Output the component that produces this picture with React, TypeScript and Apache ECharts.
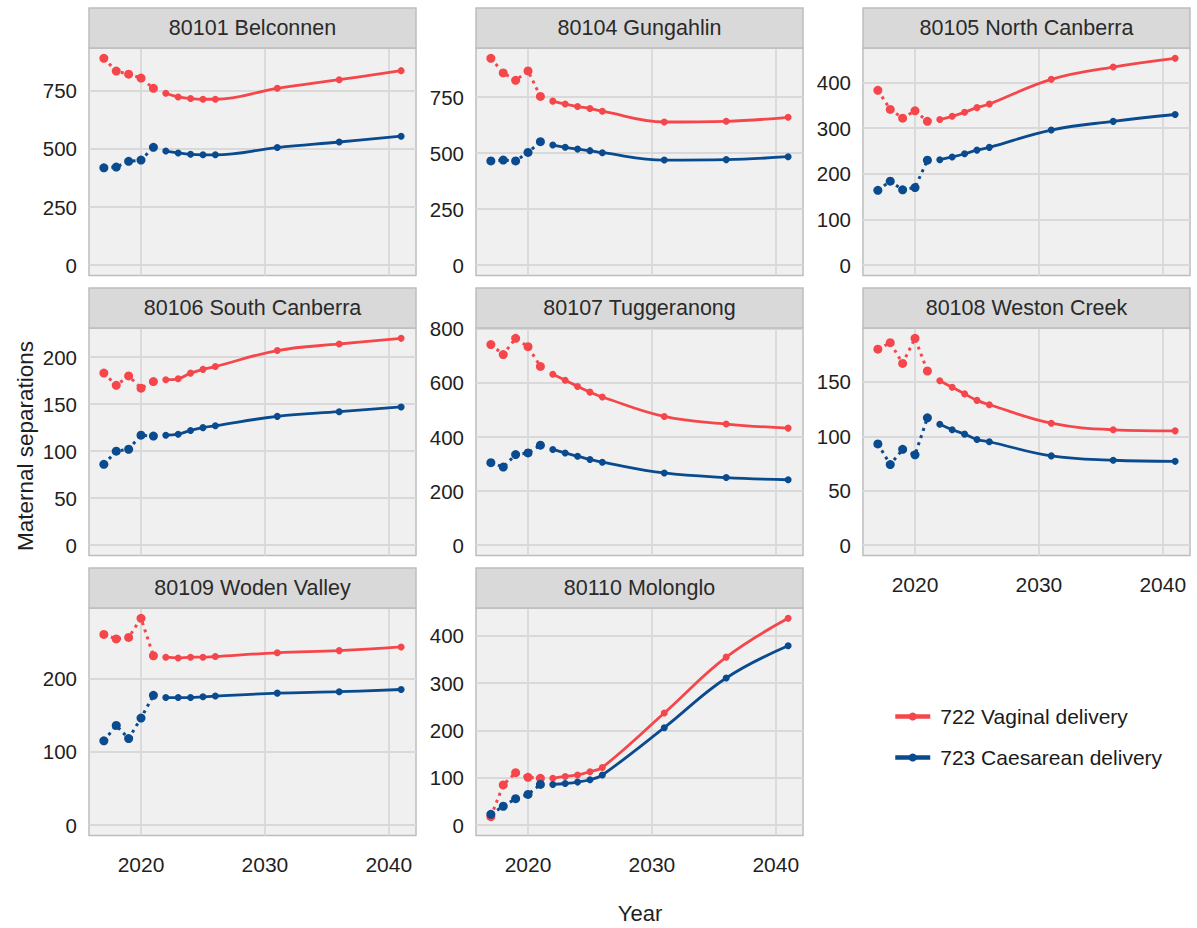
import React, { useEffect, useRef } from "react";
import * as echarts from "echarts";

// ---------- DATA ----------
const obsYears = [2017, 2018, 2019, 2020, 2021];
const projYears = [2022, 2023, 2024, 2025, 2026, 2031, 2036, 2041];
const xTicks = [2020, 2030, 2040];

const vagName = "722 Vaginal delivery";
const caesName = "723 Caesarean delivery";

const districts = [
  "80101 Belconnen",
  "80104 Gungahlin",
  "80105 North Canberra",
  "80106 South Canberra",
  "80107 Tuggeranong",
  "80108 Weston Creek",
  "80109 Woden Valley",
  "80110 Molonglo",
];

// values: 2017-2021 observed, then 2022-2026, 2031, 2036, 2041 projected
const belconnenVag = [890, 835, 822, 805, 761, 740, 724, 717, 714, 714, 761, 798, 837];
const belconnenCaes = [419, 422, 447, 452, 507, 491, 483, 477, 475, 475, 506, 530, 555];
const gungahlinVag = [923, 858, 825, 867, 753, 732, 719, 708, 699, 687, 639, 642, 660];
const gungahlinCaes = [465, 469, 465, 503, 551, 536, 526, 518, 511, 502, 469, 471, 484];
const northCanberraVag = [383, 341, 322, 338, 315, 319, 326, 335, 345, 353, 407, 434, 453];
const northCanberraCaes = [164, 184, 165, 170, 230, 231, 237, 244, 252, 258, 296, 315, 330];
const southCanberraVag = [183, 170, 180, 167, 174, 176, 177, 183, 187, 190, 207, 214, 220];
const southCanberraCaes = [86, 100, 102, 117, 116, 117, 118, 122, 125, 127, 137, 142, 147];
const tuggeranongVag = [742, 705, 765, 734, 661, 632, 610, 587, 566, 548, 476, 448, 433];
const tuggeranongCaes = [305, 289, 335, 341, 370, 354, 341, 329, 317, 307, 267, 250, 242];
const westonCreekVag = [180, 186, 167, 190, 160, 151, 145, 139, 133, 129, 112, 106, 105];
const westonCreekCaes = [93, 74, 88, 83, 117, 111, 106, 102, 97, 95, 82, 78, 77];
const wodenValleyVag = [260, 254, 256, 282, 231, 229, 228, 229, 229, 230, 235, 238, 243];
const wodenValleyCaes = [115, 136, 118, 146, 177, 174, 174, 174, 175, 176, 180, 182, 185];
const molongloVag = [18, 85, 111, 101, 99, 99, 103, 106, 113, 122, 237, 355, 437];
const molongloCaes = [23, 40, 56, 65, 86, 86, 88, 91, 96, 106, 206, 311, 379];

const vagValues = [belconnenVag, gungahlinVag, northCanberraVag, southCanberraVag, tuggeranongVag, westonCreekVag, wodenValleyVag, molongloVag];
const caesValues = [belconnenCaes, gungahlinCaes, northCanberraCaes, southCanberraCaes, tuggeranongCaes, westonCreekCaes, wodenValleyCaes, molongloCaes];

const yTicks = [
  [0, 250, 500, 750],
  [0, 250, 500, 750],
  [0, 100, 200, 300, 400],
  [0, 50, 100, 150, 200],
  [0, 200, 400, 600, 800],
  [0, 50, 100, 150],
  [0, 100, 200],
  [0, 100, 200, 300, 400],
];

// ---------- STYLE / LAYOUT ----------
const RED = "#F5474B";
const BLUE = "#0A4A8E";
const FONT = "'Liberation Sans', Arial, Helvetica, sans-serif";
const colLeft = [89, 476, 863];
const rowTop = [48, 328, 608];
const PW = 327;
const PH = 227.5;
const STRIP = 40;
const showXLabels = [5, 6, 7];

export default function App() {
  const ref = useRef<HTMLDivElement>(null);

  useEffect(() => {
    if (!ref.current) return;
    const chart = echarts.init(ref.current, undefined, { renderer: "svg" });

    const grids: any[] = [];
    const xAxes: any[] = [];
    const yAxes: any[] = [];
    const series: any[] = [];
    const graphics: any[] = [];

    districts.forEach((name, p) => {
      const col = p % 3;
      const row = Math.floor(p / 3);
      const left = colLeft[col];
      const top = rowTop[row];
      grids.push({
        left, top, width: PW, height: PH,
        show: true,
        backgroundColor: "#F0F0F0",
        borderColor: "#BDBDBD",
        borderWidth: 1.5,
        containLabel: false,
      });
      const all = [...vagValues[p], ...caesValues[p]];
      const hi = Math.max(...all);
      const lo = Math.min(0, ...all);
      const span = hi - lo;
      xAxes.push({
        type: "value",
        gridIndex: p,
        min: 2015.8,
        max: 2042.2,
        axisLine: { show: false },
        axisTick: { show: false, customValues: xTicks },
        axisLabel: {
          show: showXLabels.includes(p),
          customValues: xTicks,
          formatter: (v: number) => String(v),
          fontSize: 21,
          color: "#1f1f1f",
          fontFamily: FONT,
          margin: 18,
        },
        splitLine: { show: true, lineStyle: { color: "#D9D9D9", width: 1.8 } },
      });
      yAxes.push({
        type: "value",
        gridIndex: p,
        min: lo - 0.05 * span,
        max: hi + 0.05 * span,
        axisLine: { show: false },
        axisTick: { show: false, customValues: yTicks[p] },
        axisLabel: {
          customValues: yTicks[p],
          formatter: (v: number) => String(v),
          fontSize: 20.5,
          color: "#1f1f1f",
          fontFamily: FONT,
          margin: 12,
        },
        splitLine: { show: true, lineStyle: { color: "#D9D9D9", width: 1.8 } },
      });

      const pairs: [string, string, number[]][] = [
        [vagName, RED, vagValues[p]],
        [caesName, BLUE, caesValues[p]],
      ];
      pairs.forEach(([sname, color, vals]) => {
        series.push({
          type: "line",
          name: sname,
          xAxisIndex: p,
          yAxisIndex: p,
          data: projYears.map((y, i) => [y, vals[obsYears.length + i]]),
          smooth: 0.4,
          symbol: "circle",
          symbolSize: 7,
          itemStyle: { color },
          lineStyle: { color, width: 2.8 },
          emphasis: { disabled: true },
          z: 3,
        });
        series.push({
          type: "line",
          name: sname,
          xAxisIndex: p,
          yAxisIndex: p,
          data: obsYears.map((y, i) => [y, vals[i]]),
          symbol: "circle",
          symbolSize: 9,
          itemStyle: { color },
          lineStyle: { color, width: 3, type: [3, 4.5] },
          emphasis: { disabled: true },
          z: 3,
        });
      });

      graphics.push({
        type: "rect",
        shape: { x: left, y: top - STRIP, width: PW, height: STRIP },
        style: { fill: "#D9D9D9", stroke: "#BDBDBD", lineWidth: 1.5 },
        z: 10,
      });
      graphics.push({
        type: "text",
        x: left + PW / 2,
        y: top - STRIP / 2,
        style: {
          text: name,
          fontSize: 21.5,
          fontFamily: FONT,
          fill: "#2a2a2a",
          align: "center",
          verticalAlign: "middle",
        },
        z: 11,
      });
    });

    graphics.push({
      type: "text",
      x: 640,
      y: 913,
      style: {
        text: "Year",
        fontSize: 22,
        fontFamily: FONT,
        fill: "#1f1f1f",
        align: "center",
        verticalAlign: "middle",
      },
    });
    graphics.push({
      type: "text",
      x: 25,
      y: 446,
      rotation: Math.PI / 2,
      style: {
        text: "Maternal separations",
        fontSize: 22.5,
        fontFamily: FONT,
        fill: "#1f1f1f",
        align: "center",
        verticalAlign: "middle",
      },
    });

    chart.setOption({
      animation: false,
      backgroundColor: "#FFFFFF",
      textStyle: { fontFamily: FONT },
      grid: grids,
      xAxis: xAxes,
      yAxis: yAxes,
      series,
      graphic: graphics,
      legend: {
        data: [vagName, caesName],
        orient: "vertical",
        left: 888,
        top: 701,
        itemWidth: 35,
        itemHeight: 10,
        itemGap: 20,
        selectedMode: false,
        lineStyle: { width: 4.5, type: "solid" },
        textStyle: { fontSize: 21, color: "#1a1a1a", fontFamily: FONT, padding: [0, 0, 0, 5] },
      },
    });

    return () => chart.dispose();
  }, []);

  return (
    <div
      ref={ref}
      style={{ position: "fixed", left: 0, top: 0, width: 1197, height: 928 }}
    />
  );
}
